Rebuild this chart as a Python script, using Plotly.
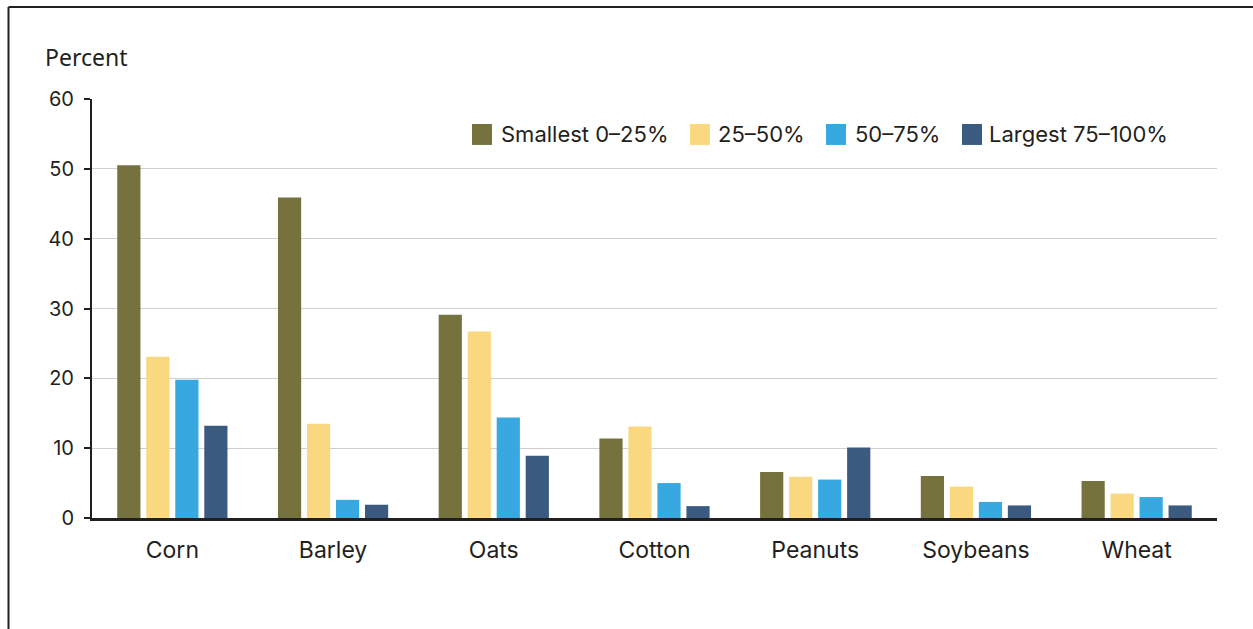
import plotly.graph_objects as go

categories = ["Corn", "Barley", "Oats", "Cotton", "Peanuts", "Soybeans", "Wheat"]
series_names = ["Smallest 0\u201325%", "25\u201350%", "50\u201375%", "Largest 75\u2013100%"]
smallest = [50.5, 45.9, 29.1, 11.4, 6.6, 6.0, 5.3]
q2 = [23.1, 13.5, 26.7, 13.1, 5.9, 4.5, 3.5]
q3 = [19.8, 2.6, 14.4, 5.0, 5.5, 2.3, 3.0]
largest = [13.2, 1.9, 8.9, 1.7, 10.1, 1.8, 1.8]
y_ticks = [0, 10, 20, 30, 40, 50, 60]

colors = ["#76723E", "#FAD880", "#38A8E0", "#3A5A7F"]
values = [smallest, q2, q3, largest]

W, H = 1253, 629
L, R, T, B = 92, 36, 99, 110.5
pw, ph = W - L - R, H - T - B

def px_x(x):
    return (x - L) / pw

def px_y(y):
    return (H - B - y) / ph

fig = go.Figure()
for name, vals, col in zip(series_names, values, colors):
    fig.add_trace(go.Bar(x=categories, y=vals, name=name,
                         marker=dict(color=col, line=dict(width=0)),
                         showlegend=False, hoverinfo="skip"))

font_main = "Inter, Liberation Sans, Arial, sans-serif"

shapes = []
annotations = []
# frame border (top and left)
shapes.append(dict(type="line", xref="paper", yref="paper",
                   x0=px_x(8.5), x1=px_x(1260), y0=px_y(7), y1=px_y(7),
                   line=dict(color="#231F20", width=2)))
shapes.append(dict(type="line", xref="paper", yref="paper",
                   x0=px_x(8.5), x1=px_x(8.5), y0=px_y(7), y1=px_y(640),
                   line=dict(color="#231F20", width=2)))

# custom legend
box_x = [472, 690, 826, 962]
text_x = [499, 716, 853, 987]
for bx, tx, name, col in zip(box_x, text_x, series_names, colors):
    shapes.append(dict(type="rect", xref="paper", yref="paper",
                       x0=px_x(bx), x1=px_x(bx + 20), y0=px_y(145), y1=px_y(124),
                       fillcolor=col, line=dict(width=0)))
    annotations.append(dict(xref="paper", yref="paper", x=px_x(tx), y=px_y(134.5),
                            xanchor="left", yanchor="middle", showarrow=False,
                            text=name, font=dict(family=font_main, size=22, color="#231F20")))

annotations.append(dict(xref="paper", yref="paper", x=px_x(43), y=px_y(57),
                        xanchor="left", yanchor="middle", showarrow=False,
                        text="Percent", font=dict(family="Noto Sans, Open Sans, sans-serif",
                                                  size=23, color="#231F20")))

fig.update_layout(
    width=W, height=H,
    margin=dict(l=L, r=R, t=T, b=B, pad=0),
    paper_bgcolor="white", plot_bgcolor="white",
    barmode="group", bargap=0.278, bargroupgap=0.2,
    font=dict(family=font_main, size=20, color="#231F20"),
    shapes=shapes, annotations=annotations,
    showlegend=False,
)
fig.update_yaxes(range=[0, 60], tickvals=y_ticks, showgrid=True,
                 gridcolor="#CFCFCF", gridwidth=1,
                 showline=True, linecolor="#231F20", linewidth=2,
                 ticks="outside", ticklen=6, tickwidth=2, tickcolor="#231F20",
                 zeroline=False, tickfont=dict(size=20), ticklabelstandoff=6)
fig.update_xaxes(showline=True, linecolor="#231F20", linewidth=2.5,
                 ticks="", showgrid=False, ticklabelstandoff=10,
                 tickfont=dict(size=23))

fig.write_html("out.html", config={"displayModeBar": False},
               post_script="document.body.style.margin='0';")
